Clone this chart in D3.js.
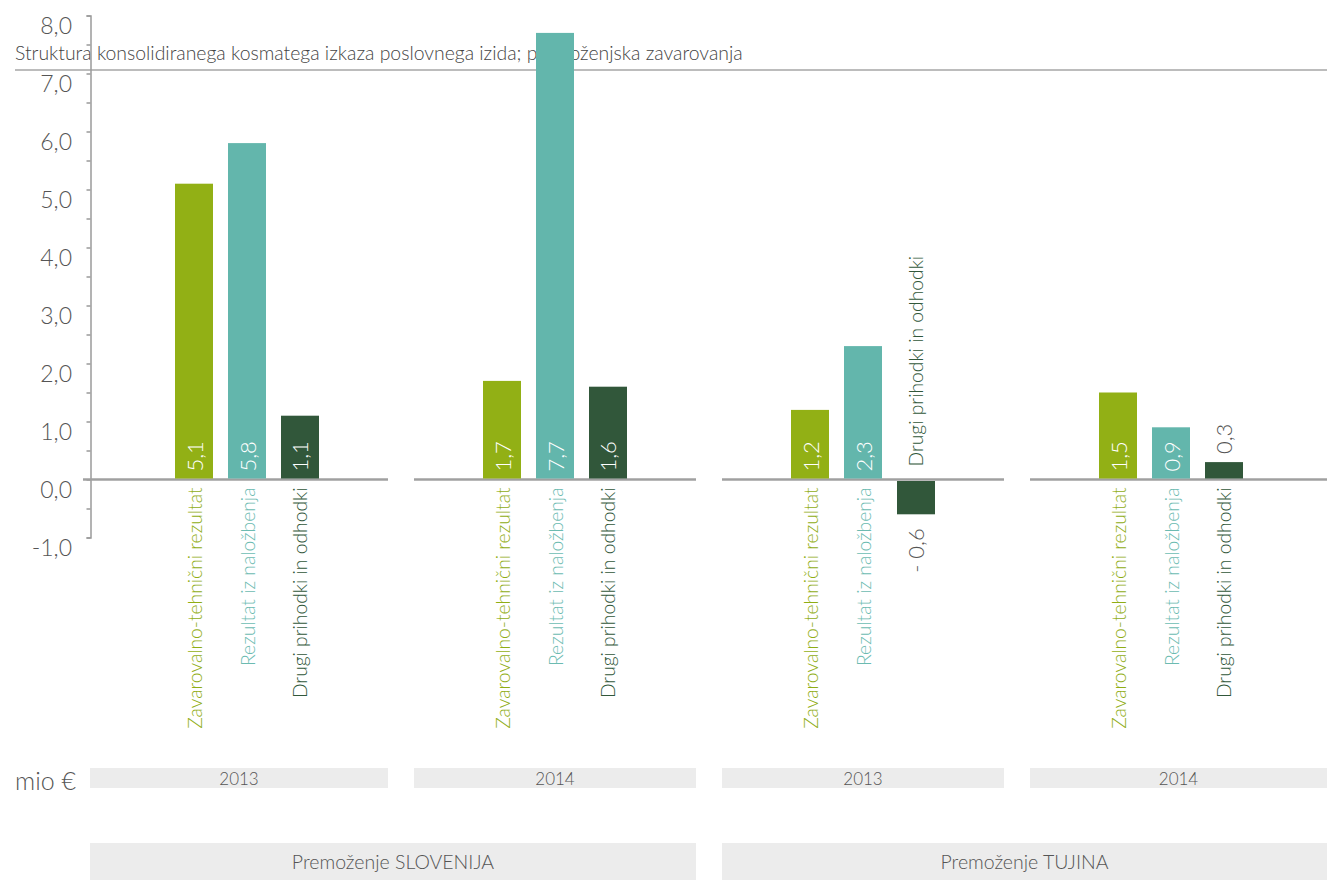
<!DOCTYPE html>
<html>
<head>
<meta charset="utf-8">
<script src="https://cdn.jsdelivr.net/npm/d3@7"></script>
<style>
  html, body { margin: 0; padding: 0; background: #fff; }
  svg { display: block; font-family: Lato, "Open Sans", sans-serif; font-weight: 300; }
</style>
</head>
<body>
<svg id="chart" width="1327" height="880"></svg>
<script>
// Values in mio €, one entry per region/year group
const groups = ["SLO-2013", "SLO-2014", "TUJ-2013", "TUJ-2014"];
const groupYears = ["2013", "2014", "2013", "2014"];
const regions = ["Premoženje SLOVENIJA", "Premoženje TUJINA"];
const seriesNames = ["Zavarovalno-tehnični rezultat", "Rezultat iz naložbenja", "Drugi prihodki in odhodki"];
const zavarovalnoTehnicni = [5.1, 1.7, 1.2, 1.5];
const rezultatNalozbe = [5.8, 7.7, 2.3, 0.9];
const drugiPrihodki = [1.1, 1.6, -0.6, 0.3];
const yTickValues = [-1, 0, 1, 2, 3, 4, 5, 6, 7, 8];
const titleText = "Struktura konsolidiranega kosmatega izkaza poslovnega izida; premoženjska zavarovanja";
const unitText = "mio €";

const seriesValues = [zavarovalnoTehnicni, rezultatNalozbe, drugiPrihodki];
const barColors = ["#92b015", "#63b6ac", "#31573a"];
const labelColors = ["#8fad14", "#6cbbb1", "#31573a"];

const W = 1327, H = 880;
const axisX = 90.5;
const svg = d3.select("#chart");

const y = d3.scaleLinear().domain([-1, 8]).range([537.5, 15.5]);
const xGroup = d3.scaleBand().domain(groups).range([93, 1325]).padding(0);
const xSeries = d3.scaleBand().domain(d3.range(seriesNames.length))
  .range([82, 226]).paddingInner(0.283).paddingOuter(0);

const fmt = v => (v < 0 ? "- " : "") + d3.format(".1f")(Math.abs(v)).replace(".", ",");

// Title and its rule
svg.append("text").attr("x", 15).attr("y", 60)
  .attr("font-size", 19.4).attr("fill", "#444").text(titleText);
svg.append("line").attr("x1", 15).attr("x2", W).attr("y1", 70).attr("y2", 70)
  .attr("stroke", "#a6a6a6").attr("stroke-width", 1.5);

// Y axis with half-unit ticks
const yAxis = d3.axisLeft(y)
  .tickValues(d3.range(-1, 8.01, 0.5))
  .tickSize(4).tickFormat("");
const gAxis = svg.append("g").attr("transform", `translate(${axisX},0)`).call(yAxis);
gAxis.select(".domain").attr("stroke", "#9a9a9a").attr("stroke-width", 1.5);
gAxis.selectAll(".tick line").attr("stroke", "#9a9a9a").attr("stroke-width", 1.5);

svg.append("g").selectAll("text").data(yTickValues).join("text")
  .attr("x", 72).attr("y", d => y(d) + 9)
  .attr("text-anchor", "end").attr("dominant-baseline", "central")
  .attr("font-size", 23).attr("fill", "#555")
  .text(d => (d < 0 ? "-" : "") + d3.format(".1f")(Math.abs(d)).replace(".", ","));

// Group boxes and zero line segments
const boxX0 = (g, i) => i === 0 ? axisX - 0.5 : xGroup(g) + 13;
const boxX1 = (g, i) => i === groups.length - 1 ? W : xGroup(g) + xGroup.bandwidth() - 13;

svg.append("g").selectAll("line").data(groups).join("line")
  .attr("x1", (g, i) => i === 0 ? 83 : boxX0(g, i))
  .attr("x2", (g, i) => boxX1(g, i))
  .attr("y1", y(0)).attr("y2", y(0))
  .attr("stroke", "#a0a0a0").attr("stroke-width", 2.5);

const yearG = svg.append("g");
yearG.selectAll("rect").data(groups).join("rect")
  .attr("x", (g, i) => boxX0(g, i)).attr("y", 768)
  .attr("width", (g, i) => boxX1(g, i) - boxX0(g, i)).attr("height", 20)
  .attr("fill", "#ececec");
yearG.selectAll("text").data(groups).join("text")
  .attr("x", (g, i) => (boxX0(g, i) + boxX1(g, i)) / 2).attr("y", 778)
  .attr("text-anchor", "middle").attr("dominant-baseline", "central")
  .attr("font-size", 17).attr("fill", "#555")
  .text((g, i) => groupYears[i]);

const regionG = svg.append("g");
regions.forEach((r, k) => {
  const gi0 = k * 2, gi1 = k * 2 + 1;
  const x0 = boxX0(groups[gi0], gi0), x1 = boxX1(groups[gi1], gi1);
  regionG.append("rect").attr("x", x0).attr("y", 843).attr("width", x1 - x0).attr("height", 37)
    .attr("fill", "#ececec");
  regionG.append("text").attr("x", (x0 + x1) / 2).attr("y", 861)
    .attr("text-anchor", "middle").attr("dominant-baseline", "central")
    .attr("font-size", 19.5).attr("fill", "#555").text(r);
});

svg.append("text").attr("x", 15).attr("y", 780)
  .attr("dominant-baseline", "central").attr("font-size", 25).attr("fill", "#555")
  .text(unitText);

// Bars, values and category labels
const barData = [];
groups.forEach((g, gi) => {
  seriesValues.forEach((vals, si) => {
    barData.push({ g, gi, si, v: vals[gi] });
  });
});

const barsG = svg.append("g");
barsG.selectAll("rect").data(barData).join("rect")
  .attr("x", d => xGroup(d.g) + xSeries(d.si))
  .attr("y", d => y(Math.max(0, d.v)) + (d.v < 0 ? 1.5 : 0))
  .attr("width", xSeries.bandwidth())
  .attr("height", d => Math.abs(y(d.v) - y(0)) - (d.v < 0 ? 1.5 : 1))
  .attr("fill", d => barColors[d.si]);

const cx = d => xGroup(d.g) + xSeries(d.si) + xSeries.bandwidth() / 2;

// Value labels: inside the bar when it is tall enough, otherwise outside
barsG.selectAll("text.value").data(barData).join("text").attr("class", "value")
  .attr("transform", d => {
    let yy;
    if (d.v >= 0.8) yy = y(0) - 8;
    else if (d.v >= 0) yy = y(d.v) - 8;
    else yy = y(d.v) + 14;
    return `translate(${cx(d)},${yy}) rotate(-90)`;
  })
  .attr("text-anchor", d => d.v < 0 ? "end" : "start")
  .attr("dominant-baseline", "central")
  .attr("font-size", 22)
  .attr("fill", d => d.v >= 0.8 ? "#fff" : "#555")
  .text(d => fmt(d.v));

// Category labels: below the zero line, or above it for negative bars
barsG.selectAll("text.cat").data(barData).join("text").attr("class", "cat")
  .attr("transform", d => {
    const yy = d.v < 0 ? y(0) - 13 : y(0) + 8;
    return `translate(${cx(d)},${yy}) rotate(-90)`;
  })
  .attr("text-anchor", d => d.v < 0 ? "start" : "end")
  .attr("dominant-baseline", "central")
  .attr("font-size", 19.3)
  .attr("fill", d => labelColors[d.si])
  .text(d => seriesNames[d.si]);
</script>
</body>
</html>
